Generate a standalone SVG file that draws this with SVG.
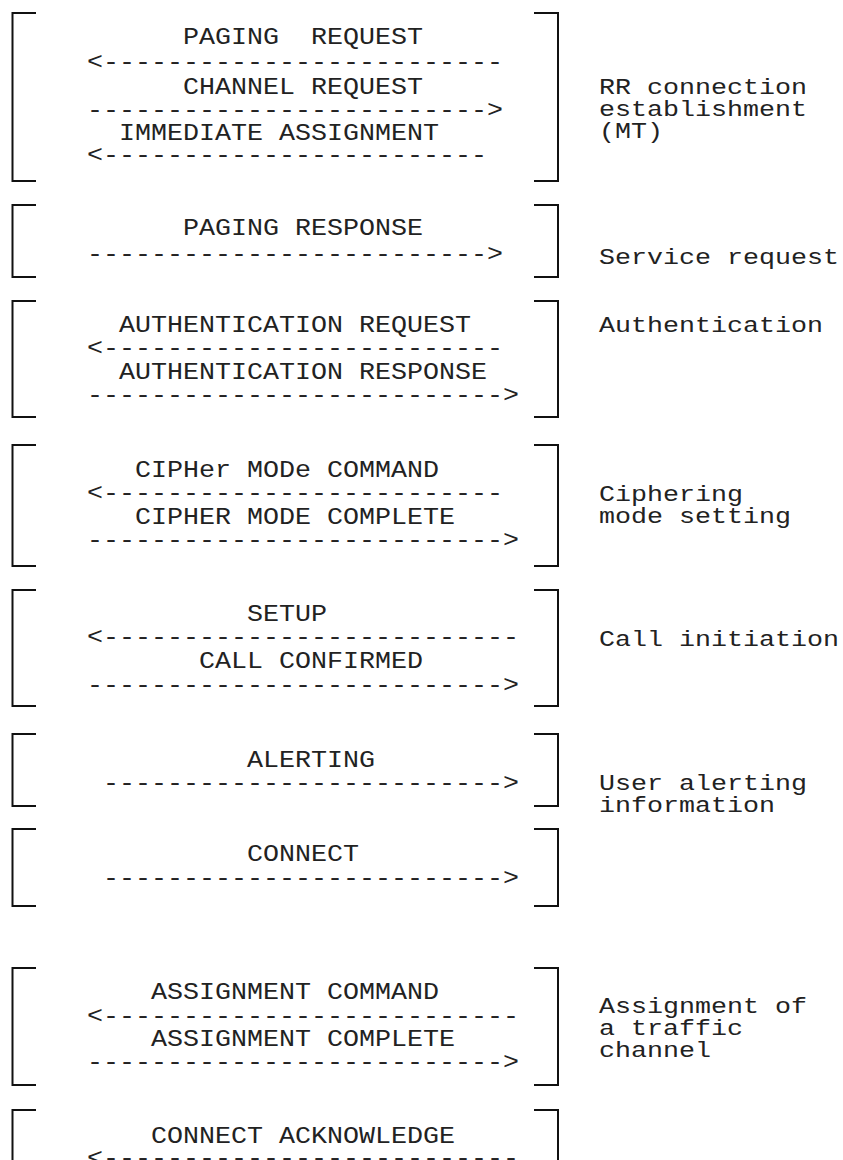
<svg xmlns="http://www.w3.org/2000/svg" width="843" height="1160" viewBox="0 0 843 1160">
<style>
  .t { font-family: "Liberation Mono", "Courier New", monospace; font-size: 26.67px; fill: #222; white-space: pre; }
  .b { fill: none; stroke: #111; stroke-width: 2; }
</style>
<rect width="843" height="1160" fill="#fff"/>
<g id="brackets">
  <path class="b" d="M36,13 H12.5 V181 H36 M534,13 H558 V181 H534"/>
  <path class="b" d="M36,205 H12.5 V277 H36 M534,205 H558 V277 H534"/>
  <path class="b" d="M36,301 H12.5 V417 H36 M534,301 H558 V417 H534"/>
  <path class="b" d="M36,445 H12.5 V566 H36 M534,445 H558 V566 H534"/>
  <path class="b" d="M36,590 H12.5 V706 H36 M534,590 H558 V706 H534"/>
  <path class="b" d="M36,734 H12.5 V806 H36 M534,734 H558 V806 H534"/>
  <path class="b" d="M36,829 H12.5 V906 H36 M534,829 H558 V906 H534"/>
  <path class="b" d="M36,968 H12.5 V1085 H36 M534,968 H558 V1085 H534"/>
  <path class="b" d="M36,1110 H12.5 V1165 M534,1110 H558 V1165"/>
</g>
<g id="block1">
  <text class="t" xml:space="preserve" transform="translate(183 44) scale(1 0.88)">PAGING  REQUEST</text>
  <text class="t" transform="translate(87 69) scale(1 0.88)">&lt;-------------------------</text>
  <text class="t" transform="translate(183 94) scale(1 0.88)">CHANNEL REQUEST</text>
  <text class="t" transform="translate(87 117) scale(1 0.88)">-------------------------&gt;</text>
  <text class="t" transform="translate(119 140) scale(1 0.88)">IMMEDIATE ASSIGNMENT</text>
  <text class="t" transform="translate(87 162) scale(1 0.88)">&lt;------------------------</text>
  <text class="t" transform="translate(599 93.5) scale(1 0.82)">RR connection</text>
  <text class="t" transform="translate(599 115.5) scale(1 0.82)">establishment</text>
  <text class="t" transform="translate(599 137.5) scale(1 0.82)">(MT)</text>
</g>
<g id="block2">
  <text class="t" transform="translate(183 235) scale(1 0.88)">PAGING RESPONSE</text>
  <text class="t" transform="translate(87 261) scale(1 0.88)">-------------------------&gt;</text>
  <text class="t" transform="translate(599 263.5) scale(1 0.82)">Service request</text>
</g>
<g id="block3">
  <text class="t" transform="translate(119 332) scale(1 0.88)">AUTHENTICATION REQUEST</text>
  <text class="t" transform="translate(87 355) scale(1 0.88)">&lt;-------------------------</text>
  <text class="t" transform="translate(119 379) scale(1 0.88)">AUTHENTICATION RESPONSE</text>
  <text class="t" transform="translate(87 402) scale(1 0.88)">--------------------------&gt;</text>
  <text class="t" transform="translate(599 332) scale(1 0.82)">Authentication</text>
</g>
<g id="block4">
  <text class="t" transform="translate(135 477) scale(1 0.88)">CIPHer MODe COMMAND</text>
  <text class="t" transform="translate(87 500) scale(1 0.88)">&lt;-------------------------</text>
  <text class="t" transform="translate(135 524) scale(1 0.88)">CIPHER MODE COMPLETE</text>
  <text class="t" transform="translate(87 547) scale(1 0.88)">--------------------------&gt;</text>
  <text class="t" transform="translate(599 501) scale(1 0.82)">Ciphering</text>
  <text class="t" transform="translate(599 523) scale(1 0.82)">mode setting</text>
</g>
<g id="block5">
  <text class="t" transform="translate(247 621) scale(1 0.88)">SETUP</text>
  <text class="t" transform="translate(87 644) scale(1 0.88)">&lt;--------------------------</text>
  <text class="t" transform="translate(199 668) scale(1 0.88)">CALL CONFIRMED</text>
  <text class="t" transform="translate(87 692) scale(1 0.88)">--------------------------&gt;</text>
  <text class="t" transform="translate(599 646) scale(1 0.82)">Call initiation</text>
</g>
<g id="block6">
  <text class="t" transform="translate(247 767) scale(1 0.88)">ALERTING</text>
  <text class="t" transform="translate(103 790) scale(1 0.88)">-------------------------&gt;</text>
  <text class="t" transform="translate(599 789.5) scale(1 0.82)">User alerting</text>
  <text class="t" transform="translate(599 811.5) scale(1 0.82)">information</text>
</g>
<g id="block7">
  <text class="t" transform="translate(247 861) scale(1 0.88)">CONNECT</text>
  <text class="t" transform="translate(103 885) scale(1 0.88)">-------------------------&gt;</text>
</g>
<g id="block8">
  <text class="t" transform="translate(151 999) scale(1 0.88)">ASSIGNMENT COMMAND</text>
  <text class="t" transform="translate(87 1023) scale(1 0.88)">&lt;--------------------------</text>
  <text class="t" transform="translate(151 1046) scale(1 0.88)">ASSIGNMENT COMPLETE</text>
  <text class="t" transform="translate(87 1069) scale(1 0.88)">--------------------------&gt;</text>
  <text class="t" transform="translate(599 1013) scale(1 0.82)">Assignment of</text>
  <text class="t" transform="translate(599 1035) scale(1 0.82)">a traffic</text>
  <text class="t" transform="translate(599 1057) scale(1 0.82)">channel</text>
</g>
<g id="block9">
  <text class="t" transform="translate(151 1143) scale(1 0.88)">CONNECT ACKNOWLEDGE</text>
  <text class="t" transform="translate(87 1165) scale(1 0.88)">&lt;--------------------------</text>
</g>
</svg>
